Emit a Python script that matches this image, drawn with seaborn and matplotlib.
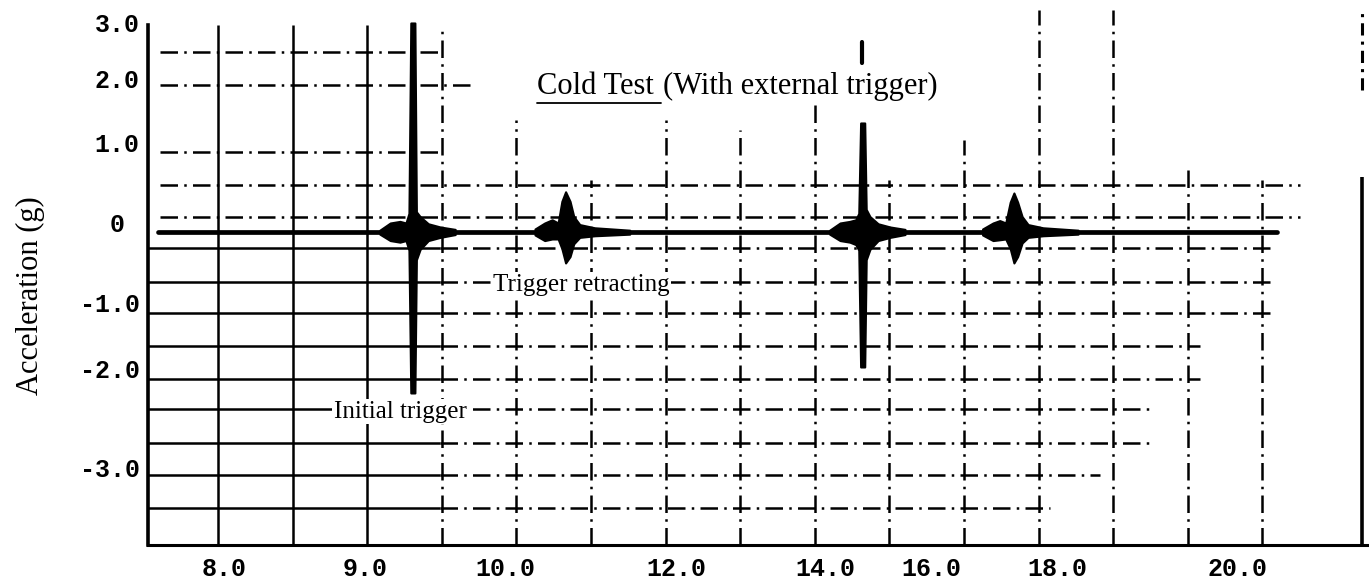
import matplotlib
matplotlib.use("Agg")
import matplotlib.pyplot as plt
from matplotlib.lines import Line2D
import seaborn as sns
import pandas as pd

# values
# x = position along the trace in grid divisions, y = acceleration (g)
xtick_pos = [0.08, 1.97, 3.85, 6.14, 8.14, 9.56, 11.25, 13.67]
xtick_labels = ["8.0", "9.0", "10.0", "12.0", "14.0", "16.0", "18.0", "20.0"]
ytick_pos = [2.5, 1.81, 1.0, 0.0, -1.0, -1.825, -3.06]
ytick_labels = ["3.0", "2.0", "1.0", "0 ", "-1.0", "-2.0", "-3.0"]

baseline_x = [-0.80, 14.20]
baseline_y = [-0.11, -0.11]

# initial trigger burst
burst1_x = [2.17, 2.31, 2.44, 2.52, 2.56, 2.585, 2.64, 2.66, 2.71, 2.82, 2.98, 3.18]
burst1_hi = [-0.09, 0.0, 0.02, 0.0, 0.12, 2.50, 2.50, 0.14, 0.08, -0.01, -0.05, -0.08]
burst1_lo = [-0.14, -0.22, -0.24, -0.22, -0.34, -2.125, -2.125, -0.46, -0.33, -0.22, -0.18, -0.145]

# trigger retracting burst
burst2_x = [4.25, 4.38, 4.48, 4.56, 4.61, 4.66, 4.72, 4.77, 4.85, 5.05, 5.52]
burst2_hi = [-0.075, 0.0, 0.04, 0.0, 0.27, 0.39, 0.27, 0.08, -0.02, -0.06, -0.09]
burst2_lo = [-0.15, -0.22, -0.20, -0.20, -0.32, -0.50, -0.42, -0.26, -0.18, -0.16, -0.14]

# second trigger burst
burst3_x = [8.20, 8.34, 8.47, 8.55, 8.59, 8.615, 8.67, 8.69, 8.74, 8.85, 9.01, 9.21]
burst3_hi = [-0.09, 0.0, 0.02, 0.04, 0.12, 1.25, 1.25, 0.17, 0.08, -0.01, -0.05, -0.08]
burst3_lo = [-0.14, -0.22, -0.24, -0.27, -0.34, -1.80, -1.80, -0.46, -0.33, -0.22, -0.18, -0.145]
burst3_top_x = [8.64, 8.64]
burst3_top_y = [2.0, 2.26]

# second retracting burst
burst4_x = [10.25, 10.39, 10.48, 10.56, 10.62, 10.67, 10.72, 10.78, 10.86, 11.06, 11.53]
burst4_hi = [-0.075, 0.0, 0.03, 0.0, 0.26, 0.375, 0.26, 0.08, -0.02, -0.06, -0.09]
burst4_lo = [-0.15, -0.22, -0.21, -0.20, -0.32, -0.50, -0.42, -0.25, -0.18, -0.16, -0.14]

bursts = [(burst1_x, burst1_lo, burst1_hi), (burst2_x, burst2_lo, burst2_hi),
          (burst3_x, burst3_lo, burst3_hi), (burst4_x, burst4_lo, burst4_hi)]

# scope graticule (style only)
vgrid_x = list(range(15))
vgrid_top = [2.475, 2.475, 2.475, 2.475, 1.29, 0.54, 1.29, 1.16, 1.54, 0.54,
             1.04, 2.66, 2.66, 0.66, 0.54]
hgrid_y = [2.14, 1.725, 0.89, 0.475, 0.075, -0.31, -0.74, -1.125, -1.54,
           -1.95, -2.325, -2.75, -3.15, -3.56]
hgrid_end = [2.98, 3.38, 2.98, 14.5, 14.5, 14.1, 14.1, 14.1, 13.16,
             13.16, 12.5, 12.5, 11.82, 11.15]

sns.set_style("white")
plt.rcParams["font.family"] = ["Liberation Serif", "DejaVu Serif"]
plt.rcParams["text.color"] = "black"
plt.rcParams["xtick.color"] = "black"
plt.rcParams["ytick.color"] = "black"

fig = plt.figure(figsize=(13.69, 5.87), dpi=100)
ax = fig.add_axes([0.1081, 0.0716, 0.8919, 0.9114])
ax.set_xlim(-0.938, 15.43)
ax.set_ylim(-4.025, 2.6625)

dashdot = (0, (7, 2.5, 1, 2.5))
for i, x in enumerate(vgrid_x):
    ls = "-" if i < 3 else dashdot
    ax.vlines(x, -4.025, vgrid_top[i], colors="black", linewidth=1.8, linestyles=[ls], zorder=1)
for y, xe in zip(hgrid_y, hgrid_end):
    if y < 0:
        ax.hlines(y, -0.938, 2.98, colors="black", linewidth=1.8, zorder=1)
        ax.hlines(y, 2.98, xe, colors="black", linewidth=1.8, linestyles=[dashdot], zorder=1)
    else:
        ax.hlines(y, -0.78, xe, colors="black", linewidth=1.8, linestyles=[dashdot], zorder=1)

# right edge of the scope screen
ax.vlines(15.34, -4.025, 0.575, colors="black", linewidth=2.6, zorder=1)
ax.vlines(15.34, 1.66, 2.65, colors="black", linewidth=2.2, linestyles=[(0, (4, 2, 1, 2))], zorder=1)

sns.lineplot(x=baseline_x, y=baseline_y, ax=ax, color="black", linewidth=3.4,
             solid_capstyle="round", estimator=None, sort=False, zorder=3)
for bx, lo, hi in bursts:
    ax.fill_between(bx, lo, hi, color="black", linewidth=1.5, zorder=3)
sns.lineplot(x=burst3_top_x, y=burst3_top_y, ax=ax, color="black", linewidth=3.0,
             estimator=None, sort=False, zorder=3)

ax.set_xticks(xtick_pos)
ax.set_xticklabels(xtick_labels)
ax.set_yticks(ytick_pos)
ax.set_yticklabels(ytick_labels)
ax.tick_params(axis="both", length=0, colors="black")
ax.tick_params(axis="x", pad=9)
ax.tick_params(axis="y", pad=6)
for lab in ax.get_xticklabels() + ax.get_yticklabels():
    lab.set_fontfamily(["Liberation Mono", "DejaVu Sans Mono"])
    lab.set_fontweight("bold")
    lab.set_fontsize(18)
    lab.set_color("black")

for side in ["top", "right"]:
    ax.spines[side].set_visible(False)
ax.spines["left"].set_linewidth(2.6)
ax.spines["bottom"].set_linewidth(2.2)
ax.spines["left"].set_color("black")
ax.spines["bottom"].set_color("black")
ax.spines["left"].set_bounds(-4.025, 2.475)
ax.set_xlabel("")
ax.set_ylabel("")

fig.text(30 / 1369, 1 - 296 / 587, "Acceleration (g)", rotation=90,
         ha="center", va="center", fontsize=22, color="black")

box = dict(facecolor="white", edgecolor="none", pad=1)
ax.text(4.87, -0.775, "Trigger retracting", ha="center", va="center", fontsize=18,
        color="black", bbox=box, zorder=4)
ax.text(2.44, -2.36, "Initial trigger", ha="center", va="center", fontsize=18,
        color="black", bbox=box, zorder=4)

# title with underlined first part
t1 = fig.text(537 / 1369, 1 - 86 / 587, "Cold Test", ha="left", va="center",
              fontsize=22, color="black")
fig.canvas.draw()
r = fig.canvas.get_renderer()
b1 = t1.get_window_extent(r)
x2 = b1.x1 + 9
t2 = fig.text(x2 / 1369, 1 - 86 / 587, "(With external trigger)", ha="left", va="center",
              fontsize=22, color="black")
uy = b1.y0 - 2
fig.add_artist(Line2D([b1.x0 / 1369, (x2 - 2) / 1369], [uy / 587, uy / 587],
                      transform=fig.transFigure, color="black", linewidth=1.3))

fig.savefig("out.png", dpi=100)
